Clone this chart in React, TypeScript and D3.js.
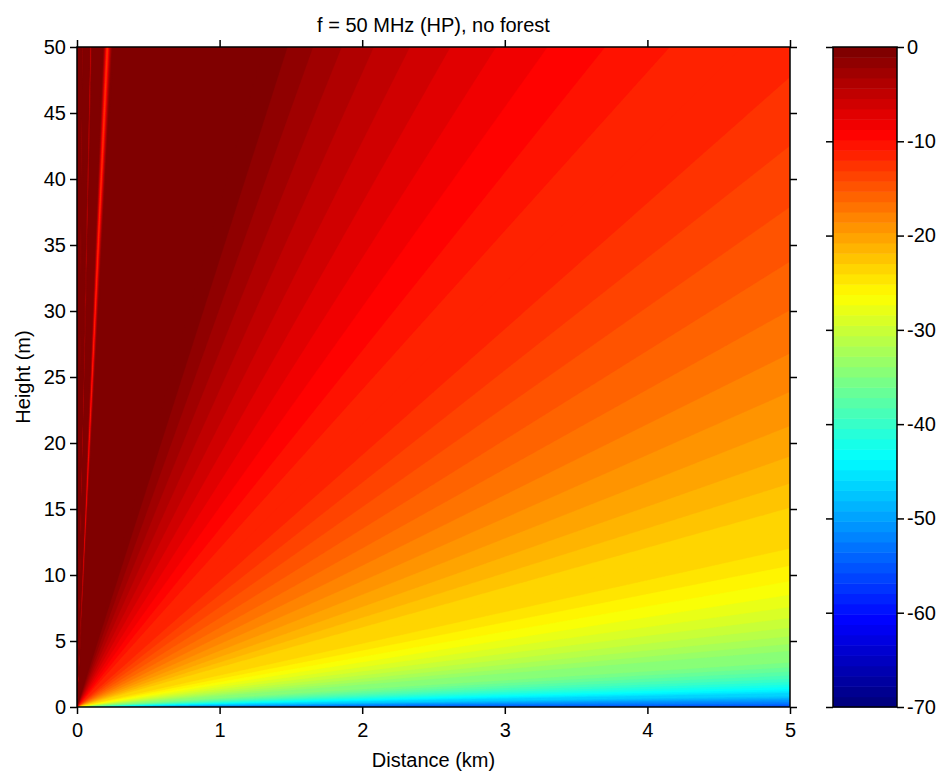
import React, { useEffect, useMemo, useRef } from 'react';
import * as d3 from 'd3';

// the contour bands fan out from the origin so the value only depends on the slope
const slopeKnots = [0.01, 0.03, 0.1, 0.2, 0.5, 1, 2, 5, 10, 20, 38, 200, 214, 224, 235, 247, 258, 275, 480, 500, 518, 536, 556, 1200, 1260, 1310, 1370];
const levelKnots = [-55, -53.5, -50.5, -45.6, -37.6, -31.6, -25.6, -17.6, -11.6, -5.6, 0, 0, -4, -9, -14, -9, -4, 0, 0, -5, -8.5, -5, 0, 0, -3, -4, 0];

const xTicks = [0, 1, 2, 3, 4, 5];
const yTicks = [0, 5, 10, 15, 20, 25, 30, 35, 40, 45, 50];
const cbTicks = [0, -10, -20, -30, -40, -50, -60, -70];
const cMin = -70;
const cMax = 0;
const nColors = 64;

const W = 942, H = 773;
const L = 77, R = 790, T = 47, B = 707;
const CBL = 833, CBR = 897;
const FONT = '"Liberation Sans", Arial, Helvetica, sans-serif';

const jet = (t: number) => {
  const c = (v: number) => Math.max(0, Math.min(1, v));
  return d3.rgb(255 * c(1.5 - Math.abs(4 * t - 3)), 255 * c(1.5 - Math.abs(4 * t - 2)), 255 * c(1.5 - Math.abs(4 * t - 1))).formatHex();
};
const cmap = d3.range(nColors).map(i => jet(i / (nColors - 1)));
const colorOf = (lv: number) => cmap[Math.max(0, Math.min(nColors - 1, Math.floor((lv - cMin) / (cMax - cMin) * nColors + 1e-9)))];

const levelAt = d3.scaleLinear().domain(slopeKnots.map(Math.log10)).range(levelKnots).clamp(true);
function field(d: number, h: number) {
  if (h <= 0) return levelKnots[0];
  const s = d <= 0 ? 1e7 : h / d;
  return levelAt(Math.log10(s));
}

const plain = (d: d3.NumberValue) => String(d);

export default function App() {
  const gxRef = useRef<SVGGElement>(null);
  const gyRef = useRef<SVGGElement>(null);
  const gtRef = useRef<SVGGElement>(null);
  const grRef = useRef<SVGGElement>(null);
  const cblRef = useRef<SVGGElement>(null);
  const cbrRef = useRef<SVGGElement>(null);

  const x = d3.scaleLinear().domain([0, 5]).range([L, R]);
  const y = d3.scaleLinear().domain([0, 50]).range([B, T]);
  const cb = d3.scaleLinear().domain([cMin, cMax]).range([B, T]);

  const bands = useMemo(() => {
    const nx = 840, ny = 330;
    const gx = d3.scaleLinear().domain([0, nx]).range([-0.012, 5.012]);
    const gy = d3.scaleLinear().domain([0, ny]).range([-0.3, 50.3]);
    const values = new Array(nx * ny);
    for (let j = 0; j < ny; j++) {
      for (let i = 0; i < nx; i++) values[j * nx + i] = field(gx(i + 0.5), gy(j + 0.5));
    }
    const levels = d3.range(cMin, cMax + 1, 1);
    const contours = d3.contours().size([nx, ny]).thresholds(levels)(values);
    const proj = d3.geoTransform({
      point(px: number, py: number) {
        (this as any).stream.point(x(gx(px)), y(gy(py)));
      },
    });
    const path = d3.geoPath(proj);
    return contours.map(c => ({ d: path(c as any) || '', fill: colorOf(c.value) }));
  }, []);

  useEffect(() => {
    const style = (g: d3.Selection<SVGGElement, unknown, null, undefined>) => {
      g.select('.domain').remove();
      g.selectAll('line').attr('stroke', '#000').attr('stroke-width', 1.5);
      g.selectAll('text').attr('fill', '#000').style('font-family', FONT).style('font-size', '20px');
    };
    d3.select(gxRef.current!).call(d3.axisBottom(x).tickValues(xTicks).tickSize(7).tickPadding(9).tickFormat(plain)).call(style);
    d3.select(gtRef.current!).call(d3.axisTop(x).tickValues(xTicks).tickSize(7).tickFormat(() => '')).call(style);
    d3.select(gyRef.current!).call(d3.axisLeft(y).tickValues(yTicks).tickSize(7).tickPadding(4).tickFormat(plain)).call(style);
    d3.select(grRef.current!).call(d3.axisRight(y).tickValues(yTicks).tickSize(7).tickFormat(() => '')).call(style);
    d3.select(cblRef.current!).call(d3.axisLeft(cb).tickValues(cbTicks).tickSize(7).tickFormat(() => '')).call(style);
    d3.select(cbrRef.current!).call(d3.axisRight(cb).tickValues(cbTicks).tickSize(7).tickPadding(3).tickFormat(plain)).call(style);
  }, []);

  const step = (cMax - cMin) / nColors;

  return (
    <svg width={W} height={H} style={{ position: 'absolute', left: 0, top: 0, background: '#fff' }}>
      <defs>
        <clipPath id="plot-clip">
          <rect x={L} y={T} width={R - L} height={B - T} />
        </clipPath>
      </defs>
      <g clipPath="url(#plot-clip)">
        {bands.map((b, i) => (
          <path key={i} d={b.d} fill={b.fill} stroke={b.fill} strokeWidth={0.3} />
        ))}
      </g>
      <rect x={L} y={T} width={R - L} height={B - T} fill="none" stroke="#000" strokeWidth={1.5} />
      <g ref={gxRef} transform={`translate(0,${B})`} />
      <g ref={gtRef} transform={`translate(0,${T})`} />
      <g ref={gyRef} transform={`translate(${L},0)`} />
      <g ref={grRef} transform={`translate(${R},0)`} />

      {cmap.map((c, i) => (
        <rect key={i} x={CBL} width={CBR - CBL}
          y={cb(cMin + (i + 1) * step)} height={cb(cMin + i * step) - cb(cMin + (i + 1) * step) + 0.5}
          fill={c} />
      ))}
      <rect x={CBL} y={T} width={CBR - CBL} height={B - T} fill="none" stroke="#000" strokeWidth={1.5} />
      <g ref={cblRef} transform={`translate(${CBL},0)`} />
      <g ref={cbrRef} transform={`translate(${CBR},0)`} />

      <text x={(L + R) / 2} y={32} textAnchor="middle" fontFamily={FONT} fontSize={20}>f = 50 MHz (HP), no forest</text>
      <text x={(L + R) / 2} y={767} textAnchor="middle" fontFamily={FONT} fontSize={20}>Distance (km)</text>
      <text transform={`translate(30,${(T + B) / 2}) rotate(-90)`} textAnchor="middle" fontFamily={FONT} fontSize={20}>Height (m)</text>
    </svg>
  );
}
